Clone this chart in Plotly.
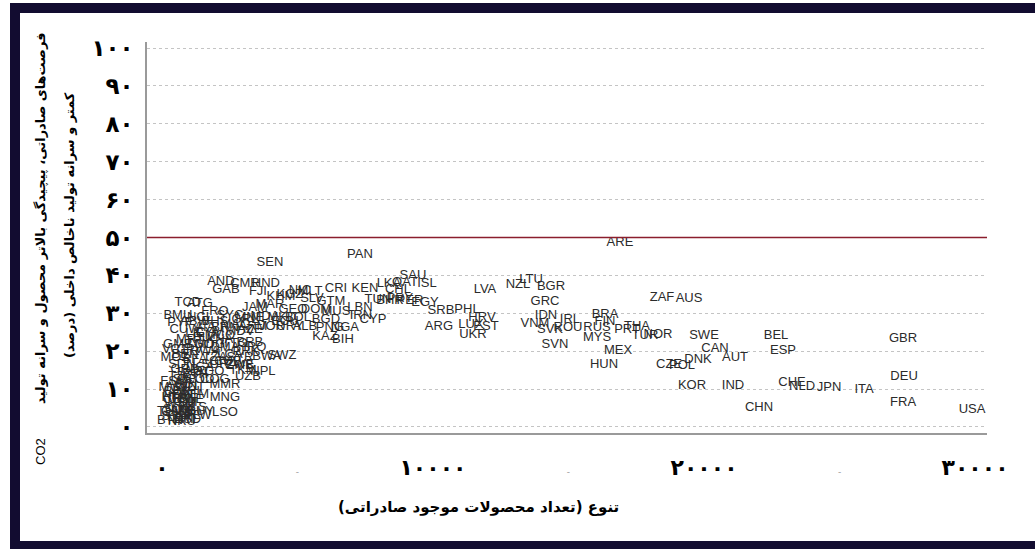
import plotly.graph_objects as go

# ---------------- data ----------------
countries = [
    "ARE","PAN","SEN","SAU","LKA","QAT","ISL","CRI","KEN","CHL",
    "TUN","BHR","PRY","PER","EGY","SRB","PHL","HRV","EST","ARG",
    "UKR","LUX","LVA","NZL","LTU","BGR","GRC","IDN","VNM","SVK",
    "IRL","ROU","SVN","BRA","FIN","RUS","PRT","THA","TUR","NOR",
    "MYS","MEX","HUN","ZAF","AUS","SWE","CAN","AUT","DNK","CZE",
    "POL","KOR","IND","CHE","NLD","JPN","ITA","CHN","BEL","ESP",
    "GBR","DEU","FRA","USA",
    "CMR","HND","MLT","FJI","KHM","KGZ","NIC","GTM","SLV","GEO",
    "DOM","MUS","LBN","IRN","CYP","BGD","PNG","NGA","KAZ","BIH",
    "ARM","JOR","URY","ALB","MDA","MKD","BOL","MNE","MAR","JAM","ECU",
    "AND","GAB","TCD","ATG","PRK","BWA","SWZ","NPL","UZB","ZWE",
    "MMR","MNG","LSO","HTI","BTN","ERI","GUY","TKM",
    "AFG","BDI","CAF","COM","DJI","GNB","GNQ","KIR","LBR","MHL",
    "MWI","SLE","SOM","SSD","STP","TLS","TON","TUV","VUT","WSM",
    "YEM","NER","GIN","MLI","NRU","PLW","FSM","SLB","TJK","LAO",
    "GMB","CPV","TGO","BEN","BFA","RWA","SDN","UGA","TZA","MOZ",
    "ZMB","MDG","MRT","SUR","BLZ","DMA","GRD","KNA","LCA","VCT",
    "CIV","ETH","AGO","COD","COG","CUB","SYR","IRQ","TTO","BRB",
    "BMU","SYC","ABW","AIA","BHS","BRN","CUW","CYM","LIE","MAC",
    "MDV","MCO","PYF","NCL","GRL","FRO","AZE",
]

diversity = [
    16900, 7306, 3985, 9262, 8376, 8967, 9779, 6421, 7491, 8708,
    7970, 8413, 8782, 9151, 9705, 10295, 11255, 11808, 11956, 10221,
    11476, 11402, 11919, 13136, 13616, 14354, 14133, 14170, 13764, 14317,
    15055, 14981, 14502, 16347, 16347, 16052, 17159, 17528, 17823, 18302,
    16052, 16826, 16310, 18450, 19446, 20000, 20406, 21144, 19778, 18708,
    19188, 19557, 21070, 23247, 23616, 24612, 25904, 22029, 22657, 22915,
    27343, 27380, 27343, 29889,
    3063, 3838, 5461, 3542, 4391, 4723, 5092, 6236, 5535, 4834,
    5683, 6421, 7306, 7343, 7786, 6052, 6199, 6753, 6015, 6679,
    3358, 4059, 4723, 5277, 3801, 4428, 5018, 3247, 3985, 3432, 4539,
    2177, 2362, 959, 1402, 3100, 3875, 4428, 3727, 3173, 2878,
    2325, 2325, 2325, 369, 295, 775, 1402, 2989,
    664, 480, 849, 590, 959, 738, 517, 886, 664, 1033,
    369, 1107, 590, 959, 443, 1218, 775, 295, 1107, 664,
    1218, 517, 886, 1033, 738, 1328, 443, 849, 664, 1033,
    590, 1033, 1402, 849, 1218, 1587, 738, 1402, 1956, 480,
    2878, 1771, 1033, 1956, 1587, 2325, 849, 2140, 2509, 480,
    2140, 1218, 1771, 1402, 1956, 2435, 2878, 3432, 2694, 3247,
    590, 2509, 1218, 1587, 1956, 2325, 849, 1771, 1218, 2694,
    2878, 2140, 664, 1402, 3063, 1956, 3247,
]

opportunity = [
    48.5, 45.4, 43.3, 39.8, 37.7, 38.0, 37.7, 36.4, 36.4, 36.1,
    33.5, 33.2, 33.8, 33.2, 32.7, 30.6, 30.9, 28.8, 26.4, 26.4,
    24.3, 26.9, 36.1, 37.5, 38.8, 36.9, 33.0, 29.3, 27.2, 25.6,
    28.2, 26.1, 21.6, 29.6, 27.7, 26.1, 25.6, 26.4, 24.0, 24.3,
    23.5, 20.1, 16.4, 34.0, 33.8, 24.0, 20.6, 18.2, 17.7, 16.4,
    16.1, 10.8, 10.8, 11.6, 10.6, 10.3, 9.8, 5.0, 24.0, 20.1,
    23.2, 13.2, 6.3, 4.5,
    37.7, 37.7, 35.6, 35.6, 34.3, 34.8, 35.9, 33.0, 33.8, 30.9,
    30.9, 30.3, 31.4, 29.3, 28.2, 28.2, 26.1, 26.1, 23.7, 23.0,
    26.4, 26.4, 26.4, 26.4, 29.0, 28.8, 28.8, 28.8, 32.2, 31.4, 27.7,
    38.3, 36.1, 32.7, 32.5, 19.8, 18.5, 18.7, 14.5, 13.2, 16.4,
    11.1, 7.7, 3.7, 7.7, 1.6, 1.8, 4.0, 14.8,
    11.1, 9.2, 8.4, 7.1, 6.3, 5.0, 4.0, 3.2, 2.4, 9.2,
    10.3, 7.1, 4.5, 1.8, 2.6, 5.0, 7.4, 4.0, 10.3, 6.1,
    8.4, 8.2, 10.8, 4.0, 1.3, 2.9, 11.9, 12.4, 13.2, 14.5,
    21.6, 20.3, 21.6, 19.0, 17.7, 19.8, 16.4, 15.6, 18.2, 18.2,
    16.1, 21.6, 23.0, 16.4, 23.5, 20.8, 15.0, 23.0, 19.0, 20.3,
    17.2, 13.7, 14.5, 12.4, 12.4, 17.2, 18.2, 20.8, 21.9, 22.2,
    29.3, 29.3, 27.7, 26.1, 27.7, 26.1, 25.6, 24.8, 24.5, 26.9,
    25.1, 24.0, 27.4, 28.8, 28.2, 30.3, 25.6,
]

threshold = 50

y_tickvals = [0, 10, 20, 30, 40, 50, 60, 70, 80, 90, 100]
y_ticktext = ["۰", "۱۰", "۲۰", "۳۰", "۴۰", "۵۰", "۶۰", "۷۰", "۸۰", "۹۰", "۱۰۰"]
x_tickvals = [0, 5000, 10000, 15000, 20000, 25000, 30000]
x_ticktext = ["۰", "-", "۱۰۰۰۰", "-", "۲۰۰۰۰", "-", "۳۰۰۰۰"]

y_title_line1 = "فرصت‌های صادراتی، پیچیدگی بالاتر محصول و سرانه تولید"
y_title_line2 = "کمتر و سرانه تولید ناخالص داخلی (درصد)"
y_title_co2 = "CO2"
x_title = "تنوع (تعداد محصولات موجود صادراتی)"

# ---------------- layout helpers (pixel -> paper) ----------------
W, H = 1035, 549
ML, MR, MT, MB = 147, 48, 42, 116
PW, PH = W - ML - MR, H - MT - MB


def px(xp):
    return (xp - ML) / PW


def py(yp):
    return (H - MB - yp) / PH


PFONT = "DejaVu Sans"


def fmt_tick(t):
    if t == "-":
        return "<span style='font-size:9px;color:#9a9a9a'>-</span>"
    return "<b>" + t + "</b>"


fig = go.Figure()
fig.add_trace(go.Scatter(
    x=diversity, y=opportunity, text=countries, mode="text",
    textposition="middle center",
    textfont=dict(family="Liberation Sans, Arial, sans-serif", size=13, color="#2b2b2b"),
    hoverinfo="text", showlegend=False,
))

fig.update_layout(
    width=W, height=H,
    margin=dict(l=ML, r=MR, t=MT, b=MB),
    paper_bgcolor="white", plot_bgcolor="white",
    xaxis=dict(
        range=[-550, 30440], showgrid=False, zeroline=False,
        showline=True, linecolor="#9a9a9a", linewidth=2,
        tickmode="array", tickvals=x_tickvals,
        ticktext=[fmt_tick(t) for t in x_ticktext],
        ticks="", ticklabelstandoff=14,
        tickfont=dict(family=PFONT, size=22, color="#000000"),
    ),
    yaxis=dict(
        range=[-1.6, 101.6], showgrid=True, gridcolor="#c4c4c4", griddash="dot",
        gridwidth=1, zeroline=False,
        showline=True, linecolor="#9a9a9a", linewidth=1.5,
        tickmode="array", tickvals=y_tickvals,
        ticktext=[fmt_tick(t) for t in y_ticktext],
        ticks="", ticklabelstandoff=7,
        tickfont=dict(family=PFONT, size=23, color="#000000"),
    ),
    shapes=[
        dict(type="line", xref="paper", yref="y", x0=0, x1=1, y0=threshold, y1=threshold,
             line=dict(color="#8b1e2d", width=1.5)),
        dict(type="rect", xref="paper", yref="paper",
             x0=px(15), x1=px(1045), y0=py(8), y1=py(546),
             line=dict(color="#120c30", width=10), fillcolor="rgba(0,0,0,0)", layer="above"),
    ],
    annotations=[
        dict(text="<b>" + y_title_line1 + "</b>", xref="paper", yref="paper",
             x=px(40), y=py(218), xanchor="center", yanchor="middle",
             textangle=-90, showarrow=False,
             font=dict(family=PFONT, size=13, color="#000000")),
        dict(text="<b>" + y_title_line2 + "</b>", xref="paper", yref="paper",
             x=px(70), y=py(225), xanchor="center", yanchor="middle",
             textangle=-90, showarrow=False,
             font=dict(family=PFONT, size=13, color="#000000")),
        dict(text=y_title_co2, xref="paper", yref="paper",
             x=px(40), y=py(452), xanchor="center", yanchor="middle",
             textangle=-90, showarrow=False,
             font=dict(family="Liberation Sans, Arial", size=13, color="#000000")),
        dict(text="<b>" + x_title + "</b>", xref="paper", yref="paper",
             x=px(478), y=py(507), xanchor="center", yanchor="middle",
             showarrow=False,
             font=dict(family=PFONT, size=15, color="#000000")),
    ],
)

fig.write_html("out.html")
